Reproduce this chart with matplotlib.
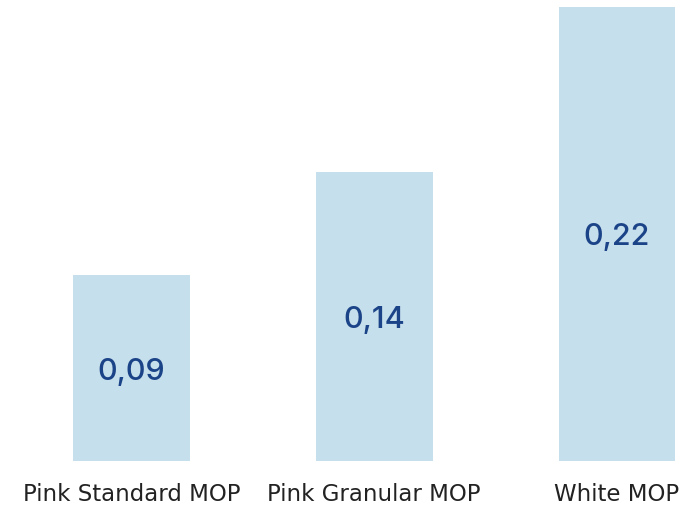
import matplotlib.pyplot as plt

categories = ["Pink Standard MOP", "Pink Granular MOP", "White MOP"]
values = [0.09, 0.14, 0.22]
value_labels = ["0,09", "0,14", "0,22"]

plt.rcParams['font.family'] = ['Inter', 'DejaVu Sans']

fig = plt.figure(figsize=(6.92, 5.08), dpi=100)
ax = fig.add_axes([0, 47 / 508, 1, (461 - 7) / 508])

x = range(len(categories))
bars = ax.bar(x, values, width=0.48, color='#c6dfec')
for b, lab in zip(bars, value_labels):
    ax.annotate(lab, (b.get_x() + b.get_width() / 2, b.get_height() / 2),
                xytext=(0, -2.5), textcoords='offset points',
                ha='center', va='center', fontsize=22, fontweight='medium',
                color='#1b4388')

ax.set_xlim(-131.5 / 243, 2 + 75 / 243)
ax.set_ylim(0, 0.22)
ax.set_xticks(list(x))
ax.set_xticklabels(categories, fontsize=16.5, color='#222222', family='DejaVu Sans')
ax.tick_params(axis='x', length=0, pad=15.5)
ax.set_yticks([])
for s in ax.spines.values():
    s.set_visible(False)

fig.savefig('out.png', dpi=100)
